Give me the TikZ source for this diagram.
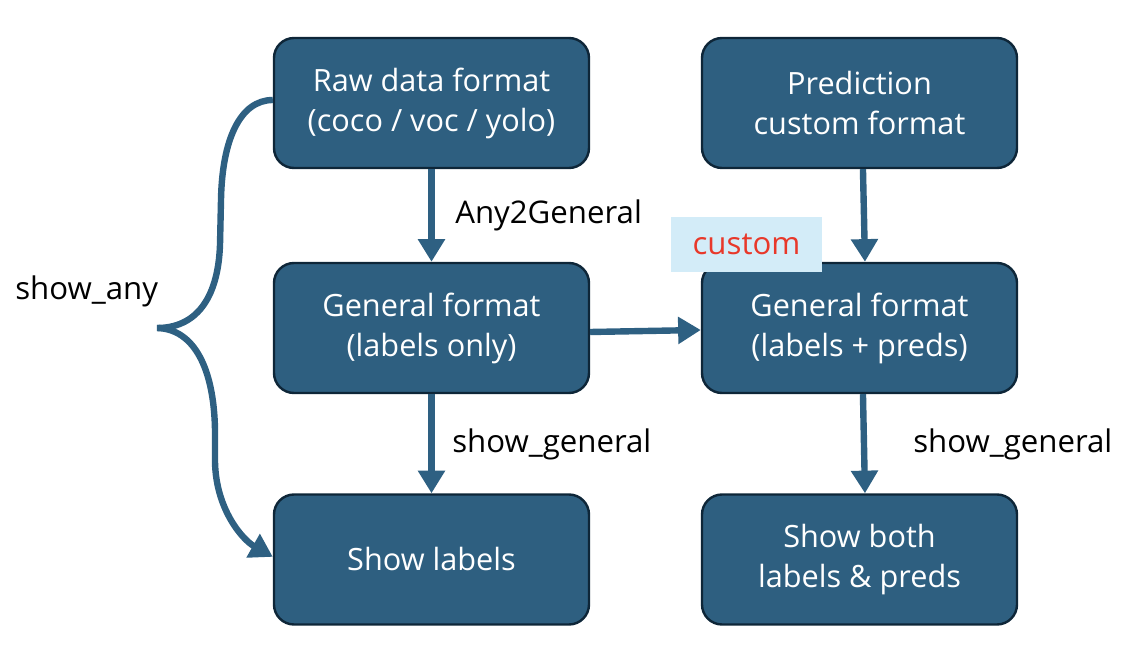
\documentclass[tikz,border=0pt]{standalone}
\usepackage{fontspec}
\setmainfont{Open Sans}
\usetikzlibrary{arrows.meta}
\definecolor{boxfill}{RGB}{46,95,128}
\definecolor{boxline}{RGB}{14,38,56}
\definecolor{arrowc}{RGB}{46,96,130}
\definecolor{customred}{RGB}{232,56,42}
\definecolor{custombg}{RGB}{211,236,248}
\begin{document}
\begin{tikzpicture}[x=0.75pt,y=-0.75pt,
  flowbox/.style={draw=boxline, line width=1.8pt, fill=boxfill, rounded corners=15pt,
    minimum width=236.25pt, minimum height=97.5pt, text=white, align=center,
    font=\fontsize{23}{30}\selectfont, inner sep=0pt},
  flowline/.style={draw=arrowc, line width=4.8pt},
  flowarrow/.style={flowline, -{Triangle[length=17pt,width=19.5pt]}},
  edgelabel/.style={font=\fontsize{23.4}{30}\selectfont, text=black, inner sep=0pt, anchor=base west},
  custombox/.style={fill=custombg, text=customred, minimum width=113.25pt, minimum height=41.25pt,
    font=\fontsize{23.4}{30}\selectfont, inner sep=0pt}
  ]
\useasboundingbox (0,0) rectangle (1140,666);

\node[flowbox] (raw)   at (431.5,103)   {Raw data format\\(coco / voc / yolo)};
\node[flowbox] (pred)  at (859.5,103)   {Prediction\\custom format};
\node[flowbox] (gen1)  at (431.5,328)   {General format\\(labels only)};
\node[flowbox] (gen2)  at (859.5,328)   {General format\\(labels + preds)};
\node[flowbox] (show1) at (431.5,559.5) {Show labels};
\node[flowbox] (show2) at (859.5,559.5) {Show both\\labels \& preds};

\node[custombox] (custom) at (746.5,244.5) {custom};

\node[edgelabel] (lany2) at (455,224) {Any2General};
\node[edgelabel] (lsg1)  at (452,453) {show\_general};
\node[edgelabel] (lsg2)  at (913,453) {show\_general};
\node[edgelabel] (lsany) at (15,300)  {show\_any};

\draw[flowarrow] (raw.south) -- (gen1.north);
\draw[flowarrow] ([xshift=2.6pt]pred.south) -- ([xshift=4.1pt]gen2.north);
\draw[flowarrow] ([yshift=-3pt]gen1.east) -- ([yshift=-1.5pt]gen2.west);
\draw[flowarrow] (gen1.south) -- (show1.north);
\draw[flowarrow] ([xshift=2.6pt]gen2.south) -- ([xshift=4.1pt]show2.north);

\coordinate (bracetip) at (157,328);
\draw[flowline] ([yshift=2.25pt]raw.west) .. controls (240,100) and (222,140) .. (221,200)
  -- (220,245) .. controls (218,300) and (195,328) .. (bracetip);
\draw[flowarrow] (bracetip) .. controls (195,329) and (214,370) .. (215,430)
  -- (215,462) .. controls (216,510) and (243,540) .. ([yshift=2pt]show1.west);
\end{tikzpicture}
\end{document}
